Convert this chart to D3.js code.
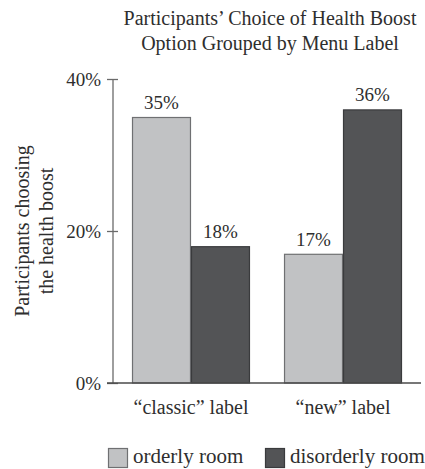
<!DOCTYPE html>
<html>
<head>
<meta charset="utf-8">
<script src="https://cdn.jsdelivr.net/npm/d3@7"></script>
<style>
  html, body { margin: 0; padding: 0; background: #fff; }
  svg text { font-family: "Liberation Serif", "Times New Roman", serif; fill: #2e2e2e; }
</style>
</head>
<body>
<svg id="chart" width="425" height="469"></svg>
<script>
// Data
const categories = ["\u201cclassic\u201d label", "\u201cnew\u201d label"];
const rooms = ["orderly room", "disorderly room"];
const orderlyValues = [35, 17];
const disorderlyValues = [18, 36];
const yTicks = [0, 20, 40];
const titleLines = ["Participants\u2019 Choice of Health Boost", "Option Grouped by Menu Label"];
const yLabelLines = ["Participants choosing", "the health boost"];

const colors = { "orderly room": "#c1c2c4", "disorderly room": "#535456" };
const strokes = { "orderly room": "#6f7072", "disorderly room": "#3a3b3d" };

const rows = categories.map((c, i) => ({
  category: c,
  values: [
    { room: rooms[0], value: orderlyValues[i] },
    { room: rooms[1], value: disorderlyValues[i] }
  ]
}));

const svg = d3.select("#chart");

const x0 = d3.scaleBand().domain(categories).range([113, 421]).paddingInner(0.224).paddingOuter(0.125);
const x1 = d3.scaleBand().domain(rooms).range([0, x0.bandwidth()]);
const y = d3.scaleLinear().domain([0, 40]).range([383, 79]);

// Title
svg.append("text")
  .attr("text-anchor", "middle")
  .style("font-size", "20px")
  .selectAll("tspan").data(titleLines).join("tspan")
  .attr("x", 270).attr("y", (d, i) => 25 + i * 25)
  .text(d => d);

// Bars
const groups = svg.append("g").selectAll("g").data(rows).join("g")
  .attr("transform", d => `translate(${x0(d.category)},0)`);

groups.selectAll("rect").data(d => d.values).join("rect")
  .attr("x", d => x1(d.room) + 0.5)
  .attr("y", d => y(d.value) + 0.5)
  .attr("width", x1.bandwidth() - 1)
  .attr("height", d => y(0) - y(d.value) - 0.5)
  .attr("fill", d => colors[d.room])
  .attr("stroke", d => strokes[d.room])
  .attr("stroke-width", 1.2);

groups.selectAll("text.val").data(d => d.values).join("text")
  .attr("class", "val")
  .attr("x", d => x1(d.room) + x1.bandwidth() / 2)
  .attr("y", d => y(d.value) - 8)
  .attr("text-anchor", "middle")
  .style("font-size", "19px")
  .text(d => d.value + "%");

// Y axis
const yAxis = svg.append("g")
  .attr("transform", "translate(113,0)")
  .call(d3.axisLeft(y).tickValues(yTicks).tickFormat(d => d + "%").tickSize(6).tickPadding(6));
yAxis.select(".domain").attr("stroke", "#6a6a6a").attr("stroke-width", 1.3).attr("d", `M0,${y(40)}V${y(0)}`);
yAxis.selectAll(".tick line").attr("stroke", "#6a6a6a").attr("stroke-width", 1.3).attr("x1", 5).attr("x2", -6);
yAxis.selectAll(".tick text")
  .style("font-family", "Liberation Serif, serif").style("font-size", "19px").attr("fill", "#2e2e2e");

// Baseline
svg.append("line")
  .attr("x1", 107).attr("x2", 421)
  .attr("y1", y(0)).attr("y2", y(0))
  .attr("stroke", "#4a4a4a").attr("stroke-width", 1.3);

// X labels
const xAxis = svg.append("g")
  .attr("transform", `translate(0,${y(0)})`)
  .call(d3.axisBottom(x0).tickSize(0).tickPadding(0));
xAxis.select(".domain").remove();
xAxis.selectAll(".tick text")
  .attr("y", 31).attr("dy", null)
  .style("font-family", "Liberation Serif, serif").style("font-size", "20px").attr("fill", "#2e2e2e");

// Y label
svg.append("text")
  .attr("transform", "translate(29,231) rotate(-90)")
  .attr("text-anchor", "middle")
  .style("font-size", "20px")
  .selectAll("tspan").data(yLabelLines).join("tspan")
  .attr("x", 0).attr("y", (d, i) => i * 24)
  .text(d => d);

// Legend
const legendX = [108, 265];
const legend = svg.append("g").selectAll("g").data(rooms).join("g")
  .attr("transform", (d, i) => `translate(${legendX[i]},448)`);
legend.append("rect")
  .attr("x", 0.5).attr("y", 0.5).attr("width", 19).attr("height", 19)
  .attr("fill", d => colors[d]).attr("stroke", d => strokes[d]).attr("stroke-width", 1.2);
legend.append("text")
  .attr("x", 25).attr("y", 15)
  .style("font-size", "21px")
  .text(d => d);
</script>
</body>
</html>
